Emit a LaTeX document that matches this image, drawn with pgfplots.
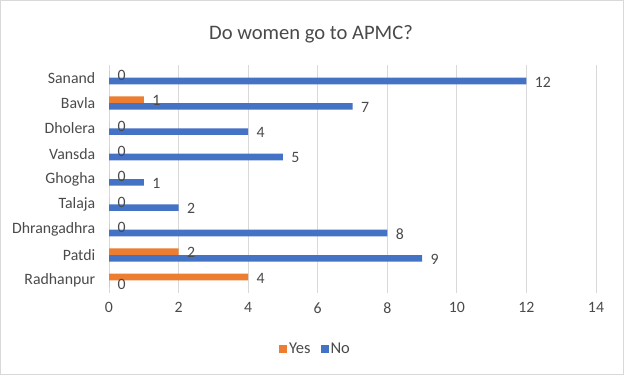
\documentclass[border=0pt]{standalone}
\usepackage{pgfplots}
\pgfplotsset{compat=1.18}
\usepackage{fontspec}
\setmainfont{Carlito}
\definecolor{cyes}{HTML}{ED7D31}
\definecolor{cno}{HTML}{4472C4}
\definecolor{txt}{HTML}{4A4A4A}
\definecolor{grd}{HTML}{D9D9D9}
\pgfplotsset{mylegend/.style={legend image code/.code={\fill[##1] (0bp,-4bp) rectangle (8bp,4bp);}}}
\begin{document}
\begin{tikzpicture}
\useasboundingbox (0,0) rectangle (624bp,375bp);
\draw[grd, line width=1bp] (0.5bp,0.5bp) rectangle (623.5bp,374.5bp);
\node[text=txt, font=\fontsize{20.6bp}{24bp}\selectfont] at (311bp,341bp) {Do women go to APMC?};
\begin{axis}[
 at={(109bp,82bp)}, anchor=south west,
 scale only axis, width=487bp, height=228bp,
 xbar, bar width=6.6bp,
 xmin=0, xmax=14, xtick={0,2,...,14},
 ymin=-0.5, ymax=8.5, ytick={0,...,8},
 yticklabels={Radhanpur,Patdi,Dhrangadhra,Talaja,Ghogha,Vansda,Dholera,Bavla,Sanand},
 xmajorgrids, grid style={grd, line width=0.75bp},
 axis line style={draw=none}, tick style={draw=none},
 /pgf/number format/assume math mode=true,
 ticklabel style={font=\fontsize{15.8bp}{18bp}\selectfont, text=txt},
 xticklabel style={yshift=-6bp},
 yticklabel style={xshift=-6bp},
 nodes near coords,
 nodes near coords style={font=\fontsize{15.8bp}{18bp}\selectfont, text=txt, xshift=5bp, yshift=-1bp, /pgf/number format/assume math mode=true},
 legend style={draw=none, at={(0.424,-0.245)}, anchor=center, legend columns=2,
   font=\fontsize{16.5bp}{18bp}\selectfont, text=txt, inner sep=0pt,
   /tikz/every even column/.append style={column sep=8bp}},
 legend cell align=left,
]
\addplot[fill=cyes, draw=none, bar shift=3.3bp, mylegend] coordinates {(4,0) (2,1) (0,2) (0,3) (0,4) (0,5) (0,6) (1,7) (0,8)};
\addplot[fill=cno, draw=none, bar shift=-3.3bp, mylegend] coordinates {(0,0) (9,1) (8,2) (2,3) (1,4) (5,5) (4,6) (7,7) (12,8)};
\legend{Yes,No}
\end{axis}
\end{tikzpicture}
\end{document}
